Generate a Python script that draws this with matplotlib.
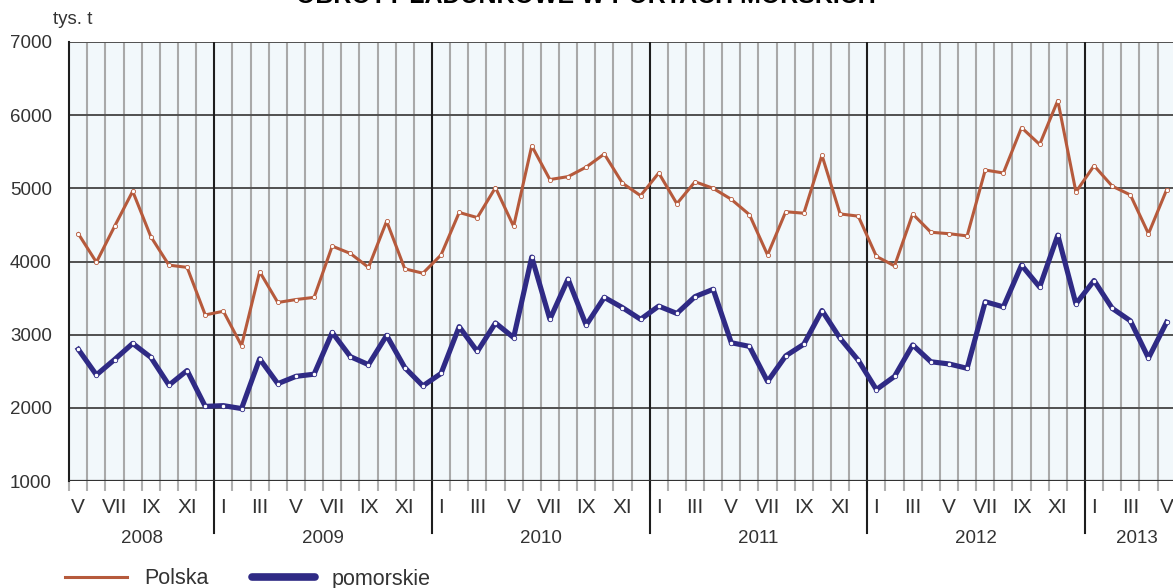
import numpy as np
import matplotlib
matplotlib.use('Agg')
from matplotlib import pyplot as plt
from matplotlib.lines import Line2D
import matplotlib.transforms as mtransforms

plt.rcParams['font.family'] = ['Liberation Sans', 'DejaVu Sans']

# miesiace od V 2008 do V 2013
miesiace = ['I', 'II', 'III', 'IV', 'V', 'VI', 'VII', 'VIII', 'IX', 'X', 'XI', 'XII']
lata = ['2008', '2009', '2010', '2011', '2012', '2013']
pierwszy_miesiac = 4  # maj 2008

polska = [4380, 3990, 4480, 4960, 4340, 3950, 3920, 3270,
          3320, 2850, 3860, 3440, 3480, 3510, 4210, 4110, 3920, 4550, 3900, 3840,
          4090, 4670, 4600, 5010, 4480, 5580, 5120, 5160, 5290, 5470, 5070, 4900,
          5210, 4790, 5090, 5000, 4850, 4640, 4090, 4680, 4660, 5450, 4650, 4620,
          4070, 3940, 4650, 4400, 4380, 4350, 5250, 5210, 5830, 5600, 6200, 4950,
          5310, 5030, 4910, 4380, 4980]

pomorskie = [2800, 2450, 2660, 2880, 2690, 2310, 2510, 2020,
             2030, 1990, 2670, 2330, 2430, 2460, 3030, 2700, 2590, 2990, 2550, 2300,
             2470, 3110, 2770, 3160, 2960, 4060, 3210, 3760, 3130, 3510, 3370, 3210,
             3390, 3290, 3520, 3620, 2890, 2840, 2360, 2710, 2870, 3330, 2950, 2650,
             2250, 2430, 2860, 2630, 2600, 2540, 3450, 3380, 3950, 3650, 4360, 3420,
             3740, 3360, 3190, 2680, 3170]

kolor_polska = '#b65a3c'
kolor_pomorskie = '#2f2a85'
kolor_tekstu = '#333333'

n = len(polska)
x = np.arange(n) + 0.5

fig = plt.figure(figsize=(11.73, 5.88), dpi=100)
ax = fig.add_axes([69.2 / 1173, 107 / 588, 1106.5 / 1173, 439 / 588])
ax.set_facecolor('#f2f8fb')
ax.set_xlim(0, n)
ax.set_ylim(1000, 7000)

# siatka
for i in range(1, n):
    if (i + pierwszy_miesiac) % 12 == 0:
        ax.axvline(i, color='#1e1e1e', lw=1.5, zorder=2)
    else:
        ax.axvline(i, color='#a9a9a9', lw=1.5, zorder=1)
for v in range(2000, 7001, 1000):
    ax.axhline(v, color='#505050', lw=1.4, zorder=1.5)

for s in ['right', 'bottom', 'top']:
    ax.spines[s].set_visible(False)
ax.spines['left'].set_color('#1e1e1e')
ax.spines['left'].set_linewidth(1.5)
ax.axhline(1000, color='#333333', lw=1.6, zorder=3)

ax.set_yticks(range(1000, 7001, 1000))
ax.tick_params(axis='y', length=0, labelsize=13.5, labelcolor=kolor_tekstu, pad=12.5)

# podzialki miesiecy pod osia
ax.set_xticks(np.arange(0, n + 1))
ax.tick_params(axis='x', which='major', length=7, width=1.5, color='#b0b0b0',
               labelbottom=False)
etyk_pos = []
etyk = []
for i in range(n):
    m = (i + pierwszy_miesiac) % 12
    if m % 2 == 0:
        etyk_pos.append(i + 0.5)
        etyk.append(miesiace[m])
ax.set_xticks(etyk_pos, minor=True)
ax.set_xticklabels(etyk, minor=True)
ax.tick_params(axis='x', which='minor', length=0, labelsize=15,
               labelcolor=kolor_tekstu, pad=12.5)

trans = mtransforms.blended_transform_factory(ax.transData, ax.transAxes)
granice = [i for i in range(1, n) if (i + pierwszy_miesiac) % 12 == 0]
for g in granice:
    ax.plot([g, g], [0, -0.118], color='#1e1e1e', lw=1.5, transform=trans,
            clip_on=False)
poczatki = [0] + granice
konce = granice + [n + 0.7]
for rok, a, b in zip(lata, poczatki, konce):
    ax.text((a + b) / 2, -0.111, rok, transform=trans, ha='center', va='top',
            fontsize=13.5, color=kolor_tekstu)

# serie
ax.plot(x, polska, color=kolor_polska, lw=2.2, zorder=4, marker='o',
        markersize=3.0, mfc='white', mec=kolor_polska, mew=0.6)
ax.plot(x, pomorskie, color=kolor_pomorskie, lw=3.7, zorder=5, marker='o',
        markersize=3.2, mfc='white', mec=kolor_pomorskie, mew=0.6)

fig.text(53 / 1173, 1 - 20 / 588, 'tys. t', fontsize=13.5, color=kolor_tekstu,
         ha='left', va='center')
fig.text(586 / 1173, 1 - 3 / 588, 'OBROTY ŁADUNKOWE W PORTACH MORSKICH',
         fontsize=18, fontweight='bold', ha='center', va='baseline')

uchwyty = [Line2D([], [], color=kolor_polska, lw=2.2),
           Line2D([], [], color=kolor_pomorskie, lw=5.5, solid_capstyle='round')]
fig.legend(uchwyty, ['Polska', 'pomorskie'], loc='center left',
           bbox_to_anchor=(65 / 1173, 1 - 579 / 588), ncol=2, frameon=False,
           fontsize=15.5, handlelength=2.9, handletextpad=0.8,
           columnspacing=2.0, borderpad=0, borderaxespad=0,
           labelcolor=kolor_tekstu)

fig.savefig('out.png', dpi=100)
